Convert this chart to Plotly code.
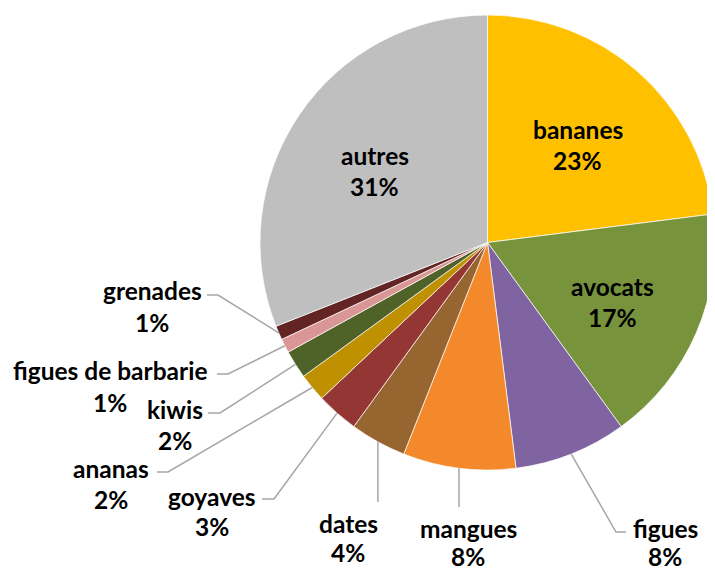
import math

import plotly.graph_objects as go

# the page body keeps its default 8px margin, so work in page pixels and shift
OFF = 8
W, H = 715 - OFF, 569 - OFF

# data
fruits = ["bananes", "avocats", "figues", "mangues", "dates", "goyaves",
          "ananas", "kiwis", "figues de barbarie", "grenades", "autres"]
shares = [23, 17, 8, 8, 4, 3, 2, 2, 1, 1, 31]
colors = ["#FFC000", "#77933C", "#8064A2", "#F4892B", "#97652F", "#943634",
          "#BF9000", "#4F6228", "#D99694", "#632523", "#BFBFBF"]

# pie geometry in page pixels
CX, CY, R = 487.5, 242.5, 227.5

# labels drawn inside the slice
inside = {"bananes", "avocats", "autres"}

# outside labels: (text centre x, name y, pct y, leader-line points after the rim)
outside = {
    "figues": (665, 528, 556, [(616, 532), (626, 532)]),
    "mangues": (468, 528, 556, [("rim", 507)]),
    "dates": (348, 523, 552, [("rim", 502)]),
    "goyaves": (212, 496, 526, [(274, 499), (262, 499)]),
    "ananas": (111, 468, 499, [(168, 472), (157, 472)]),
    "kiwis": (175, 409, 440, [(220, 413), (208, 413)]),
    "figues de barbarie": (110, 370, 402, [(228, 374), (217, 374)]),
    "grenades": (152, 290, 322, [(218, 295), (207, 295)]),
}

FONT = dict(family="Lato, 'Open Sans', sans-serif", size=24.5, color="#000000")


def px(x, y):
    return (x - OFF) / W, 1 - (y - OFF) / H


def mid_angles(values):
    total = sum(values)
    out, cum = [], 0
    for v in values:
        out.append((cum + v / 2) / total * 2 * math.pi)
        cum += v
    return out


x0, y1 = px(CX - R, CY - R)
x1, y0 = px(CX + R, CY + R)

fig = go.Figure(go.Pie(
    labels=fruits,
    values=shares,
    sort=False,
    direction="clockwise",
    rotation=0,
    marker=dict(colors=colors, line=dict(color="white", width=0.7)),
    textinfo="none",
    hoverinfo="label+percent",
    showlegend=False,
    domain=dict(x=[max(0, x0), min(1, x1)], y=[max(0, y0), min(1, y1)]),
))

annotations = []
shapes = []


def add_text(x, y, text):
    ax, ay = px(x, y)
    annotations.append(dict(x=ax, y=ay, xref="paper", yref="paper", text=f"<b>{text}</b>",
                            showarrow=False, xanchor="center", yanchor="middle", font=FONT))


for name, share, ang in zip(fruits, shares, mid_angles(shares)):
    dx, dy = math.sin(ang), -math.cos(ang)
    pct = f"{share}%"
    if name in inside:
        lx, ly = CX + 0.6 * R * dx, CY + 0.6 * R * dy + 5
        add_text(lx, ly - 15.5, name)
        add_text(lx, ly + 15.5, pct)
    else:
        tx, ny, py, pts = outside[name]
        add_text(tx, ny, name)
        add_text(tx, py, pct)
        rx, ry = CX + R * dx, CY + R * dy
        path_pts = [(rx, ry)] + [(rx if p[0] == "rim" else p[0], p[1]) for p in pts]
        path = ""
        for i, (x, y) in enumerate(path_pts):
            pxx, pyy = px(x, y)
            path += ("M" if i == 0 else " L") + f" {pxx:.5f},{pyy:.5f}"
        shapes.append(dict(type="path", path=path, xref="paper", yref="paper",
                           line=dict(color="#A6A6A6", width=1.5)))

fig.update_layout(
    width=W, height=H,
    margin=dict(l=0, r=0, t=0, b=0),
    paper_bgcolor="white",
    plot_bgcolor="white",
    annotations=annotations,
    shapes=shapes,
)

fig.write_html("out.html")
